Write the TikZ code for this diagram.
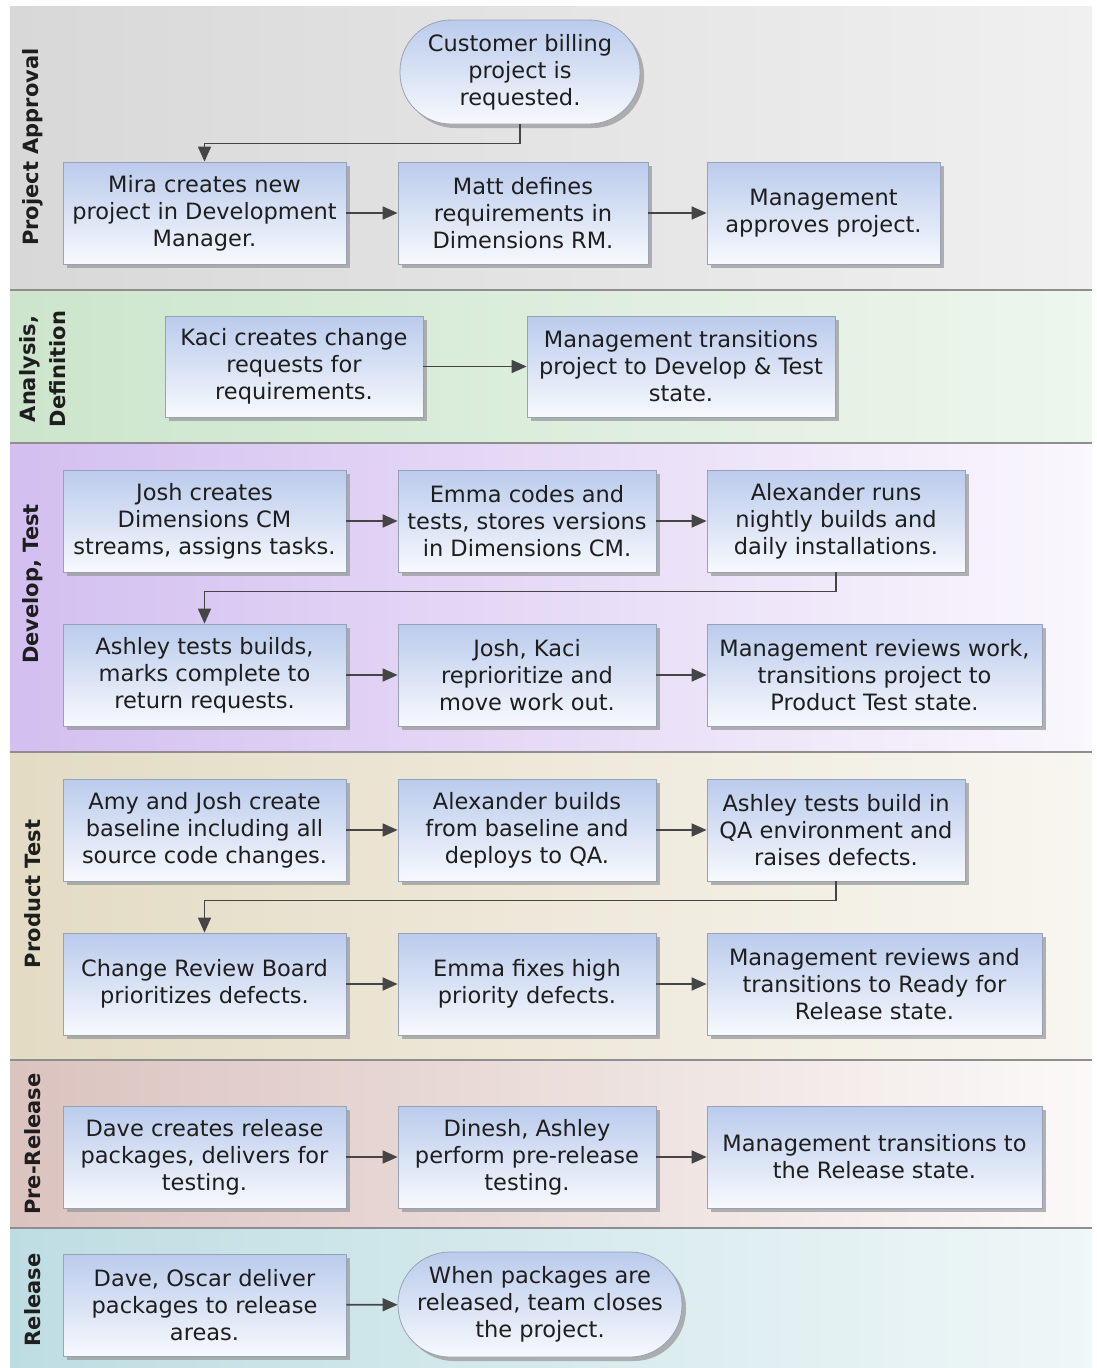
\documentclass[tikz,border=0pt]{standalone}
\usepackage{fontspec}
\setmainfont{DejaVu Sans}
\usetikzlibrary{arrows.meta,shadows}
\definecolor{txt}{HTML}{1E1E1E}
\definecolor{boxtop}{HTML}{BACBEC}
\definecolor{boxbot}{HTML}{F7F9FD}
\definecolor{boxline}{HTML}{98A2B6}
\definecolor{shadowc}{HTML}{9A9A9A}
\definecolor{arrc}{HTML}{454545}
\definecolor{sepc}{HTML}{8E8E8E}
\definecolor{grayL}{HTML}{D8D8D8}\definecolor{grayR}{HTML}{F0F0F0}
\definecolor{greenL}{HTML}{CCE5CC}\definecolor{greenR}{HTML}{EEF6EE}
\definecolor{purpL}{HTML}{D3BFF0}\definecolor{purpR}{HTML}{FAF7FD}
\definecolor{tanL}{HTML}{E3DBC4}\definecolor{tanR}{HTML}{F8F6F0}
\definecolor{pinkL}{HTML}{DBC3BF}\definecolor{pinkR}{HTML}{FBF9F8}
\definecolor{blueL}{HTML}{BEDDE2}\definecolor{blueR}{HTML}{EFF7F8}
\tikzset{
  stepbox/.style={draw=boxline, line width=0.8pt, top color=boxtop, bottom color=boxbot,
    align=center, inner sep=2pt, text=txt, font=\fontsize{22.5}{27}\selectfont,
    minimum height=102pt,
    drop shadow={shadow xshift=4pt, shadow yshift=-4pt, fill=shadowc, opacity=.75}},
  ovalbox/.style={stepbox, rounded corners=51pt},
  arr/.style={draw=arrc, line width=1.7pt, -{Triangle[length=15pt,width=13pt]}},
  lanelabel/.style={rotate=90, font=\fontsize{21}{30}\bfseries\selectfont, text=txt, align=center, inner sep=0pt},
  sep/.style={draw=sepc, line width=1.5pt}
}
\begin{document}
\begin{tikzpicture}[x=1pt,y=-1pt]
\useasboundingbox (0,0) rectangle (1096,1368);
% lanes
\fill[left color=grayL, right color=grayR] (10,6) rectangle (1092,290);
\fill[left color=greenL, right color=greenR] (10,290) rectangle (1092,443);
\fill[left color=purpL, right color=purpR] (10,443) rectangle (1092,752);
\fill[left color=tanL, right color=tanR] (10,752) rectangle (1092,1060);
\fill[left color=pinkL, right color=pinkR] (10,1060) rectangle (1092,1228);
\fill[left color=blueL, right color=blueR] (10,1228) rectangle (1092,1368);
\draw[sep] (10,290) -- (1092,290);
\draw[sep] (10,443) -- (1092,443);
\draw[sep] (10,752) -- (1092,752);
\draw[sep] (10,1060) -- (1092,1060);
\draw[sep] (10,1228) -- (1092,1228);
% lane labels
\node[lanelabel] (lab1) at (33,147) {Project Approval};
\node[lanelabel] (lab2) at (43,369) {Analysis,\\Definition};
\node[lanelabel] (lab3) at (33,584) {Develop, Test};
\node[lanelabel] (lab4) at (33,894) {Product Test};
\node[lanelabel] (lab5) at (33,1144) {Pre-Release};
\node[lanelabel] (lab6) at (33,1300) {Release};
% Project approval
\node[ovalbox, minimum width=240pt, minimum height=104pt] (cust) at (520,72) {Customer billing\\project is\\requested.};
\node[stepbox, minimum width=283pt] (mira) at (204.5,213) {Mira creates new\\project in Development\\Manager.};
\node[stepbox, minimum width=250pt] (matt) at (523,213) {Matt defines\\requirements in\\Dimensions RM.};
\node[stepbox, minimum width=233pt] (mgmt1) at (823.5,213) {Management\\approves project.};
% Analysis
\node[stepbox, minimum width=258pt, minimum height=101pt] (kaci) at (294,366.5) {Kaci creates change\\requests for\\requirements.};
\node[stepbox, minimum width=308pt, minimum height=101pt] (mgmt2) at (681,366.5) {Management transitions\\project to Develop \& Test\\state.};
% Develop, Test
\node[stepbox, minimum width=283pt] (josh) at (204.5,521) {Josh creates\\Dimensions CM\\streams, assigns tasks.};
\node[stepbox, minimum width=258pt] (emma) at (527,521) {Emma codes and\\tests, stores versions\\in Dimensions CM.};
\node[stepbox, minimum width=258pt] (alex) at (836,521) {Alexander runs\\nightly builds and\\daily installations.};
\node[stepbox, minimum width=283pt] (ashley) at (204.5,675) {Ashley tests builds,\\marks complete to\\return requests.};
\node[stepbox, minimum width=258pt] (joshkaci) at (527,675) {Josh, Kaci\\reprioritize and\\move work out.};
\node[stepbox, minimum width=335pt] (mgmt3) at (874.5,675) {Management reviews work,\\transitions project to\\Product Test state.};
% Product Test
\node[stepbox, minimum width=283pt] (amy) at (204.5,830) {Amy and Josh create\\baseline including all\\source code changes.};
\node[stepbox, minimum width=258pt] (alexb) at (527,830) {Alexander builds\\from baseline and\\deploys to QA.};
\node[stepbox, minimum width=258pt] (asht) at (836,830) {Ashley tests build in\\QA environment and\\raises defects.};
\node[stepbox, minimum width=283pt] (crb) at (204.5,984) {Change Review Board\\prioritizes defects.};
\node[stepbox, minimum width=258pt] (emmaf) at (527,984) {Emma fixes high\\priority defects.};
\node[stepbox, minimum width=335pt] (mgmt4) at (874.5,984) {Management reviews and\\transitions to Ready for\\Release state.};
% Pre-Release
\node[stepbox, minimum width=283pt] (dave) at (204.5,1157) {Dave creates release\\packages, delivers for\\testing.};
\node[stepbox, minimum width=258pt] (dinesh) at (527,1157) {Dinesh, Ashley\\perform pre-release\\testing.};
\node[stepbox, minimum width=335pt] (mgmt5) at (874.5,1157) {Management transitions to\\the Release state.};
% Release
\node[stepbox, minimum width=283pt] (daveo) at (204.5,1305) {Dave, Oscar deliver\\packages to release\\areas.};
\node[ovalbox, minimum width=284pt, minimum height=105pt, rounded corners=52pt] (when) at (540,1304.5) {When packages are\\released, team closes\\the project.};
% connectors
\draw[arr] (cust.south) -- ++(0,19) -| (mira.north);
\draw[arr] (mira) -- (matt);
\draw[arr] (matt) -- (mgmt1);
\draw[arr] (kaci) -- (mgmt2);
\draw[arr] (josh) -- (emma);
\draw[arr] (emma) -- (alex);
\draw[arr] (alex.south) -- ++(0,19) -| (ashley.north);
\draw[arr] (ashley) -- (joshkaci);
\draw[arr] (joshkaci) -- (mgmt3);
\draw[arr] (amy) -- (alexb);
\draw[arr] (alexb) -- (asht);
\draw[arr] (asht.south) -- ++(0,19) -| (crb.north);
\draw[arr] (crb) -- (emmaf);
\draw[arr] (emmaf) -- (mgmt4);
\draw[arr] (dave) -- (dinesh);
\draw[arr] (dinesh) -- (mgmt5);
\draw[arr] (daveo) -- (when);
\end{tikzpicture}
\end{document}
